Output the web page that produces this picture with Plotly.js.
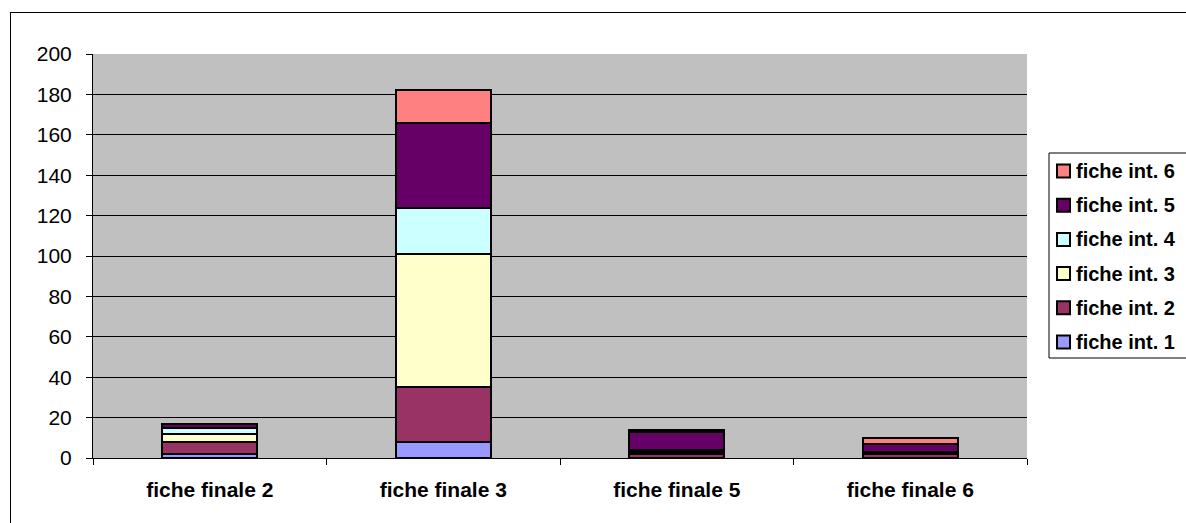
<!DOCTYPE html>
<html>
<head>
<meta charset="utf-8">
<script src="https://cdn.plot.ly/plotly-3.0.1.min.js"></script>
<style>
  body { margin:0; padding:0; background:#fff; }
  #chart { position:absolute; left:0; top:0; width:1186px; height:523px; }
  #frame { position:absolute; left:10px; top:12px; width:1180px; height:515px; border:1px solid #000; pointer-events:none; }
</style>
</head>
<body>
<div id="chart"></div>
<div id="frame"></div>
<script>
const categories = ["fiche finale 2", "fiche finale 3", "fiche finale 5", "fiche finale 6"];
const int1 = [2, 8, 0, 0];
const int2 = [6, 27, 2, 2];
const int3 = [4, 66, 1, 0];
const int4 = [3, 23, 1, 1];
const int5 = [2, 42, 9, 4];
const int6 = [0, 16, 1, 3];
const seriesNames = ["fiche int. 1", "fiche int. 2", "fiche int. 3", "fiche int. 4", "fiche int. 5", "fiche int. 6"];
const seriesValues = [int1, int2, int3, int4, int5, int6];
const colors = ["#9999FF", "#993366", "#FFFFCC", "#CCFFFF", "#660066", "#FF8080"];

const traces = seriesValues.map((v, i) => ({
  type: 'bar',
  x: categories,
  y: v,
  name: seriesNames[i],
  marker: { color: colors[i], line: { color: '#000', width: 2 } },
  hoverinfo: 'x+y+name',
  showlegend: false
}));

// plot area in pixels: left 93, right 1027, top 54, bottom 458
const PL = 93, PR = 1027, PT = 54, PB = 458;
const px = x => (x - PL) / (PR - PL);
const py = y => (PB - y) / (PB - PT);

// custom legend (Excel style), items listed top-down from last series to first
const shapes = [{
  type: 'rect', xref: 'paper', yref: 'paper',
  x0: px(1049), x1: px(1195), y0: py(358), y1: py(153),
  fillcolor: '#fff', line: { color: '#000', width: 1 }, layer: 'above'
}];
const annotations = [];
const n = seriesNames.length;
for (let k = 0; k < n; k++) {
  const i = n - 1 - k;
  const cy = 171 + k * 34.2;
  shapes.push({
    type: 'rect', xref: 'paper', yref: 'paper',
    x0: px(1057), x1: px(1070), y0: py(cy + 6.5), y1: py(cy - 6.5),
    fillcolor: colors[i], line: { color: '#000', width: 2 }, layer: 'above'
  });
  annotations.push({
    xref: 'paper', yref: 'paper', x: px(1074), y: py(cy),
    xanchor: 'left', yanchor: 'middle', showarrow: false,
    text: '<b>' + seriesNames[i] + '</b>',
    font: { size: 20, color: '#000', family: 'Arial, "Liberation Sans", sans-serif' }
  });
}

const layout = {
  width: 1186, height: 523,
  barmode: 'stack',
  bargap: 0.593,
  paper_bgcolor: 'rgba(0,0,0,0)',
  plot_bgcolor: '#C0C0C0',
  margin: { l: PL, r: 1186 - PR, t: PT, b: 523 - PB },
  font: { family: 'Arial, "Liberation Sans", sans-serif', color: '#000' },
  xaxis: {
    type: 'category',
    showline: true, linecolor: '#000', linewidth: 1,
    ticks: 'outside', tickson: 'boundaries', ticklen: 6, tickcolor: '#000',
    tickfont: { size: 21, weight: 'bold' },
    ticklabelstandoff: 13,
    showgrid: false
  },
  yaxis: {
    range: [0, 200], dtick: 20,
    showline: true, linecolor: '#000', linewidth: 1,
    ticks: 'outside', ticklen: 6, tickcolor: '#000',
    tickfont: { size: 21 },
    ticklabelstandoff: 10,
    showgrid: true, gridcolor: '#000', gridwidth: 1,
    zeroline: false
  },
  shapes: shapes,
  annotations: annotations,
  showlegend: false
};

Plotly.newPlot('chart', traces, layout, { displayModeBar: false, staticPlot: true });
</script>
</body>
</html>
